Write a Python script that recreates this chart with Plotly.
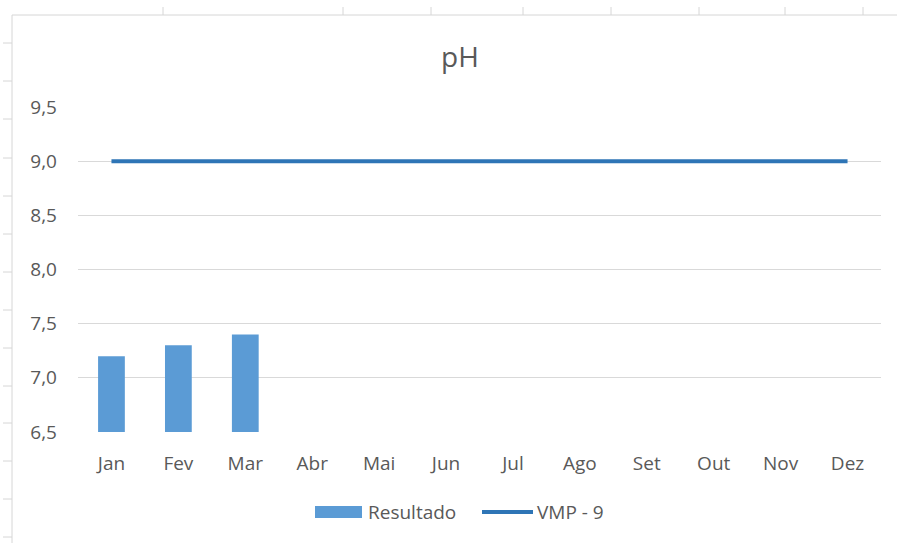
import plotly.graph_objects as go

months = ["Jan", "Fev", "Mar", "Abr", "Mai", "Jun", "Jul", "Ago", "Set", "Out", "Nov", "Dez"]
resultado = [7.2, 7.3, 7.4, None, None, None, None, None, None, None, None, None]
vmp = [9.0] * 12
y_ticks = [6.5, 7.0, 7.5, 8.0, 8.5, 9.0, 9.5]
y_tick_labels = ["6,5", "7,0", "7,5", "8,0", "8,5", "9,0", "9,5"]
series_names = ["Resultado", "VMP - 9"]
bar_color = "#5B9BD5"
line_color = "#2E75B6"

W, H = 897, 543
L, R, T, B = 78, 16, 107, 111
TXT = "#595959"
FONT = "Open Sans"

fig = go.Figure()
fig.add_trace(go.Bar(x=months, y=resultado, name=series_names[0], showlegend=False,
                     marker=dict(color=bar_color, line=dict(width=0))))
fig.add_trace(go.Scatter(x=months, y=vmp, name=series_names[1], mode="lines", showlegend=False,
                         line=dict(color=line_color, width=4)))

pw, ph = W - L - R, H - T - B
def px(x):
    return (x - L) / pw
def py(y):
    return (H - B - y) / ph

shapes = []
annotations = []
gc = "#D6D6D6"
# spreadsheet cell border artifacts around the chart
shapes.append(dict(type="line", xref="paper", yref="paper", x0=px(12), x1=px(897), y0=py(15), y1=py(15), line=dict(color=gc, width=1)))
shapes.append(dict(type="line", xref="paper", yref="paper", x0=px(12), x1=px(12), y0=py(15), y1=py(543), line=dict(color=gc, width=1)))
for xx in [163, 343, 431, 523, 611, 699, 785, 863]:
    shapes.append(dict(type="line", xref="paper", yref="paper", x0=px(xx), x1=px(xx), y0=py(7), y1=py(15), line=dict(color=gc, width=1)))
for yy in [43, 81, 119, 158, 196, 234, 272, 310, 348, 386, 423, 461, 499, 537]:
    shapes.append(dict(type="line", xref="paper", yref="paper", x0=px(3), x1=px(12), y0=py(yy), y1=py(yy), line=dict(color=gc, width=1)))

# legend (Excel-style wide swatches)
shapes.append(dict(type="rect", xref="paper", yref="paper", x0=px(315), x1=px(362), y0=py(518), y1=py(506),
                   fillcolor=bar_color, line=dict(width=0)))
shapes.append(dict(type="line", xref="paper", yref="paper", x0=px(482), x1=px(533), y0=py(512), y1=py(512),
                   line=dict(color=line_color, width=4)))
annotations.append(dict(text=series_names[0], xref="paper", yref="paper", x=px(366), y=py(512),
                        xanchor="left", yanchor="middle", showarrow=False, font=dict(size=19, color=TXT)))
annotations.append(dict(text=series_names[1], xref="paper", yref="paper", x=px(535), y=py(512),
                        xanchor="left", yanchor="middle", showarrow=False, font=dict(size=19, color=TXT)))

fig.update_layout(
    width=W, height=H,
    margin=dict(l=L, r=R, t=T, b=B),
    paper_bgcolor="white", plot_bgcolor="white",
    font=dict(family=FONT, color=TXT, size=19),
    title=dict(text="pH", x=460 / W, xref="container", xanchor="center",
               y=1 - 57 / H, yref="container", yanchor="middle",
               font=dict(size=28, color=TXT, family=FONT)),
    bargap=0.6,
    showlegend=False,
    shapes=shapes,
    annotations=annotations,
    xaxis=dict(type="category", range=[-0.5, 11.5], showgrid=False, showline=False,
               ticks="", tickfont=dict(size=19, color=TXT), ticklabelstandoff=18,
               zeroline=False),
    yaxis=dict(range=[6.5, 9.5], tickvals=y_ticks, ticktext=y_tick_labels,
               showgrid=True, gridcolor="#D9D9D9", gridwidth=1, zeroline=False,
               showline=False, ticks="", tickfont=dict(size=19, color=TXT),
               ticklabelstandoff=20),
)

fig.write_html("out.html", config={"displayModeBar": False},
               post_script="document.body.style.margin='0';document.body.style.overflow='hidden';")
